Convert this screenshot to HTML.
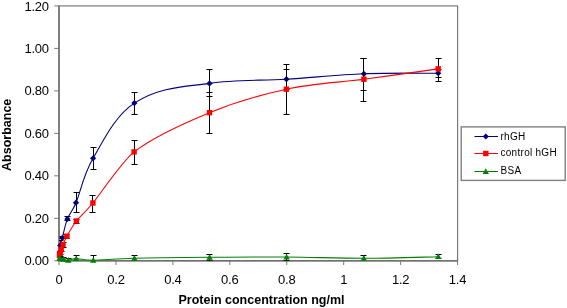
<!DOCTYPE html>
<html><head><meta charset="utf-8"><style>
html,body{margin:0;padding:0;background:#fff;}
svg{display:block;font-family:"Liberation Sans",sans-serif;will-change:transform;}
</style></head><body>
<svg width="567" height="308" viewBox="0 0 567 308">
<defs><clipPath id="pa"><rect x="59" y="0" width="399" height="260.8"/></clipPath></defs>
<rect x="59" y="5.9" width="398.6" height="254.9" fill="none" stroke="#7a7a7a" stroke-width="1.2"/>
<path d="M54.2 260.80H59" stroke="#7a7a7a" stroke-width="1"/>
<path d="M54.2 218.32H59" stroke="#7a7a7a" stroke-width="1"/>
<path d="M54.2 175.84H59" stroke="#7a7a7a" stroke-width="1"/>
<path d="M54.2 133.36H59" stroke="#7a7a7a" stroke-width="1"/>
<path d="M54.2 90.88H59" stroke="#7a7a7a" stroke-width="1"/>
<path d="M54.2 48.40H59" stroke="#7a7a7a" stroke-width="1"/>
<path d="M54.2 5.92H59" stroke="#7a7a7a" stroke-width="1"/>
<g font-size="13" fill="#000" letter-spacing="-0.25"><text x="48.8" y="265.40" text-anchor="end">0.00</text><text x="48.8" y="222.92" text-anchor="end">0.20</text><text x="48.8" y="180.44" text-anchor="end">0.40</text><text x="48.8" y="137.96" text-anchor="end">0.60</text><text x="48.8" y="95.48" text-anchor="end">0.80</text><text x="48.8" y="53.00" text-anchor="end">1.00</text><text x="48.8" y="10.52" text-anchor="end">1.20</text></g>
<path d="M59.00 260.8V265" stroke="#7a7a7a" stroke-width="1"/>
<path d="M115.94 260.8V265" stroke="#7a7a7a" stroke-width="1"/>
<path d="M172.88 260.8V265" stroke="#7a7a7a" stroke-width="1"/>
<path d="M229.82 260.8V265" stroke="#7a7a7a" stroke-width="1"/>
<path d="M286.76 260.8V265" stroke="#7a7a7a" stroke-width="1"/>
<path d="M343.70 260.8V265" stroke="#7a7a7a" stroke-width="1"/>
<path d="M400.64 260.8V265" stroke="#7a7a7a" stroke-width="1"/>
<path d="M457.58 260.8V265" stroke="#7a7a7a" stroke-width="1"/>
<g font-size="13" fill="#000" letter-spacing="-0.2"><text x="59.00" y="284" text-anchor="middle">0</text><text x="115.94" y="284" text-anchor="middle">0.2</text><text x="172.88" y="284" text-anchor="middle">0.4</text><text x="229.82" y="284" text-anchor="middle">0.6</text><text x="286.76" y="284" text-anchor="middle">0.8</text><text x="343.70" y="284" text-anchor="middle">1</text><text x="400.64" y="284" text-anchor="middle">1.2</text><text x="457.58" y="284" text-anchor="middle">1.4</text></g>
<path d="M59 5.9V260.8H457.6" fill="none" stroke="#707070" stroke-width="1.5"/>
<path d="M59.60 252.00 C59.70 250.92 59.75 247.85 60.20 245.50 C60.65 243.15 61.10 242.33 62.30 237.90 C63.50 233.47 65.12 224.77 67.40 218.90 C69.68 213.03 71.72 212.80 76.00 202.70 C80.28 192.60 83.37 174.90 93.10 158.30 C102.83 141.70 115.00 115.58 134.40 103.10 C161.17 85.87 188.22 86.75 209.50 83.40 C234.83 79.42 260.67 80.80 286.40 79.20 C312.13 77.60 338.60 74.80 363.90 73.80 C389.20 72.80 425.82 73.30 438.20 73.20" fill="none" stroke="#000080" stroke-width="1.1"/><path d="M59.50 250.50V253.50M56.50 250.50H62.50M56.50 253.50H62.50M60.50 240.50V250.50M57.50 240.50H63.50M57.50 250.50H63.50M62.50 236.50V238.50M59.50 236.50H65.50M59.50 238.50H65.50M67.50 216.50V220.50M64.50 216.50H70.50M64.50 220.50H70.50M76.50 192.50V212.50M73.50 192.50H79.50M73.50 212.50H79.50M93.50 147.50V169.50M90.50 147.50H96.50M90.50 169.50H96.50M134.50 92.50V114.50M131.50 92.50H137.50M131.50 114.50H137.50M209.50 69.50V96.50M206.50 69.50H212.50M206.50 96.50H212.50M286.50 69.50V89.50M283.50 69.50H289.50M283.50 89.50H289.50M363.50 58.50V90.50M360.50 58.50H366.50M360.50 90.50H366.50M438.50 69.50V77.50M435.50 69.50H441.50M435.50 77.50H441.50" fill="none" stroke="#000" stroke-width="1" clip-path="url(#pa)"/><g fill="#000080"><path d="M59.60 248.90l3.10 3.10l-3.10 3.10l-3.10 -3.10z"/><path d="M60.20 242.40l3.10 3.10l-3.10 3.10l-3.10 -3.10z"/><path d="M62.30 234.80l3.10 3.10l-3.10 3.10l-3.10 -3.10z"/><path d="M67.40 215.80l3.10 3.10l-3.10 3.10l-3.10 -3.10z"/><path d="M76.00 199.60l3.10 3.10l-3.10 3.10l-3.10 -3.10z"/><path d="M93.10 155.20l3.10 3.10l-3.10 3.10l-3.10 -3.10z"/><path d="M134.40 100.00l3.10 3.10l-3.10 3.10l-3.10 -3.10z"/><path d="M209.50 80.30l3.10 3.10l-3.10 3.10l-3.10 -3.10z"/><path d="M286.40 76.10l3.10 3.10l-3.10 3.10l-3.10 -3.10z"/><path d="M363.90 70.70l3.10 3.10l-3.10 3.10l-3.10 -3.10z"/><path d="M438.20 70.10l3.10 3.10l-3.10 3.10l-3.10 -3.10z"/></g>
<path d="M59.50 255.50 C59.62 255.13 59.92 254.30 60.20 253.30 C60.48 252.30 60.73 250.97 61.20 249.50 C61.67 248.03 62.05 246.72 63.00 244.50 C63.95 242.28 64.67 240.12 66.90 236.20 C69.13 232.28 72.07 226.53 76.40 221.00 C80.73 215.47 83.28 214.52 92.90 203.00 C99.82 194.71 122.44 160.93 134.10 151.90 C150.42 139.26 184.12 123.15 209.50 112.70 C234.88 102.25 260.67 94.78 286.40 89.20 C312.13 83.62 338.60 82.58 363.90 79.20 C389.20 75.82 425.82 70.62 438.20 68.90" fill="none" stroke="#ff0000" stroke-width="1.1"/><path d="M59.50 254.50V257.50M56.50 254.50H62.50M56.50 257.50H62.50M60.50 251.50V254.50M57.50 251.50H63.50M57.50 254.50H63.50M61.50 247.50V251.50M58.50 247.50H64.50M58.50 251.50H64.50M63.50 242.50V247.50M60.50 242.50H66.50M60.50 247.50H66.50M66.50 234.50V238.50M63.50 234.50H69.50M63.50 238.50H69.50M76.50 219.50V223.50M73.50 219.50H79.50M73.50 223.50H79.50M92.50 195.50V212.50M89.50 195.50H95.50M89.50 212.50H95.50M134.50 140.50V164.50M131.50 140.50H137.50M131.50 164.50H137.50M209.50 92.50V133.50M206.50 92.50H212.50M206.50 133.50H212.50M286.50 64.50V114.50M283.50 64.50H289.50M283.50 114.50H289.50M363.50 58.50V101.50M360.50 58.50H366.50M360.50 101.50H366.50M438.50 58.50V81.50M435.50 58.50H441.50M435.50 81.50H441.50" fill="none" stroke="#000" stroke-width="1" clip-path="url(#pa)"/><g fill="#ff0000"><rect x="56.80" y="252.80" width="5.40" height="5.40"/><rect x="57.50" y="250.60" width="5.40" height="5.40"/><rect x="58.50" y="246.80" width="5.40" height="5.40"/><rect x="60.30" y="241.80" width="5.40" height="5.40"/><rect x="64.20" y="233.50" width="5.40" height="5.40"/><rect x="73.70" y="218.30" width="5.40" height="5.40"/><rect x="90.20" y="200.30" width="5.40" height="5.40"/><rect x="131.40" y="149.20" width="5.40" height="5.40"/><rect x="206.80" y="110.00" width="5.40" height="5.40"/><rect x="283.70" y="86.50" width="5.40" height="5.40"/><rect x="361.20" y="76.50" width="5.40" height="5.40"/><rect x="435.50" y="66.20" width="5.40" height="5.40"/></g>
<path d="M59.60 258.50 C59.72 258.45 59.63 258.05 60.30 258.20 C60.97 258.35 62.25 259.05 63.60 259.40 C64.95 259.75 66.30 260.43 68.40 260.30 C70.50 260.17 72.05 258.60 76.20 258.60 C80.35 258.60 83.60 260.35 93.30 260.30 C103.00 260.25 115.02 258.80 134.40 258.30 C153.78 257.80 184.23 257.52 209.60 257.30 C234.97 257.08 260.90 256.83 286.60 257.00 C312.30 257.17 338.52 258.35 363.80 258.30 C389.08 258.25 425.88 256.97 438.30 256.70" fill="none" stroke="#008000" stroke-width="1.1"/><path d="M59.50 257.50V260.50M56.50 257.50H62.50M56.50 260.50H62.50M60.50 256.50V259.50M57.50 256.50H63.50M57.50 259.50H63.50M63.50 257.50V260.50M60.50 257.50H66.50M60.50 260.50H66.50M68.50 258.50V260.80M65.50 258.50H71.50M76.50 255.50V260.80M73.50 255.50H79.50M93.50 255.50V260.80M90.50 255.50H96.50M134.50 255.50V260.80M131.50 255.50H137.50M209.50 254.50V260.50M206.50 254.50H212.50M206.50 260.50H212.50M286.50 253.50V260.50M283.50 253.50H289.50M283.50 260.50H289.50M363.50 255.50V260.80M360.50 255.50H366.50M438.50 254.50V258.50M435.50 254.50H441.50M435.50 258.50H441.50" fill="none" stroke="#000" stroke-width="1" clip-path="url(#pa)"/><g fill="#008000"><path d="M59.60 255.30L62.80 260.90L56.40 260.90z"/><path d="M60.30 255.00L63.50 260.60L57.10 260.60z"/><path d="M63.60 256.20L66.80 261.80L60.40 261.80z"/><path d="M68.40 257.10L71.60 262.70L65.20 262.70z"/><path d="M76.20 255.40L79.40 261.00L73.00 261.00z"/><path d="M93.30 257.10L96.50 262.70L90.10 262.70z"/><path d="M134.40 255.10L137.60 260.70L131.20 260.70z"/><path d="M209.60 254.10L212.80 259.70L206.40 259.70z"/><path d="M286.60 253.80L289.80 259.40L283.40 259.40z"/><path d="M363.80 255.10L367.00 260.70L360.60 260.70z"/><path d="M438.30 253.50L441.50 259.10L435.10 259.10z"/></g>
<rect x="461.2" y="126.9" width="104" height="53.5" fill="#fff" stroke="#808080" stroke-width="1.4"/>
<path d="M474.5 136.50H498" stroke="#000080" stroke-width="1"/>
<g fill="#000080"><path d="M485.80 133.40l3.10 3.10l-3.10 3.10l-3.10 -3.10z"/></g>
<text x="500.5" y="139.80" font-size="10" letter-spacing="0.28">rhGH</text>
<path d="M474.5 153.50H498" stroke="#ff0000" stroke-width="1"/>
<g fill="#ff0000"><rect x="483.10" y="150.80" width="5.40" height="5.40"/></g>
<text x="500.5" y="156.30" font-size="10" letter-spacing="0.28">control hGH</text>
<path d="M474.5 171.50H498" stroke="#008000" stroke-width="1"/>
<g fill="#008000"><path d="M485.80 168.30L489.00 173.90L482.60 173.90z"/></g>
<text x="500.5" y="173.90" font-size="10" letter-spacing="0.28">BSA</text>
<text x="178.5" y="303.5" font-size="12.5" font-weight="bold">Protein concentration ng/ml</text>
<text transform="translate(10.5 134.8) rotate(-90)" text-anchor="middle" font-size="12.5" font-weight="bold">Absorbance</text>
</svg>
</body></html>
